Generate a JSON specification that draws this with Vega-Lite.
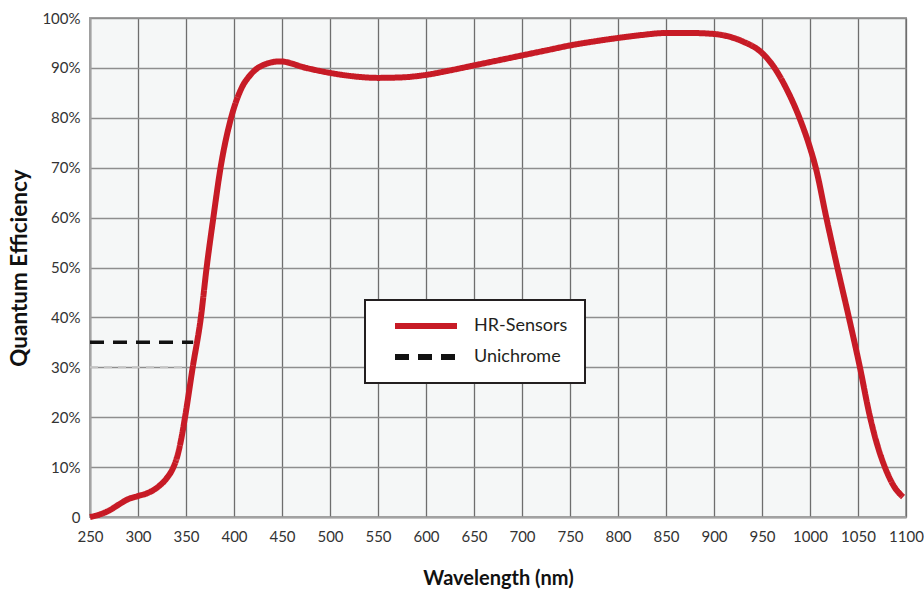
{
  "$schema": "https://vega.github.io/schema/vega-lite/v6.json",
  "autosize": {"type": "none"},
  "width": 816,
  "height": 499,
  "padding": {"left": 90, "top": 18, "right": 18, "bottom": 73},
  "background": "white",
  "config": {
    "font": "Lato",
    "view": {"fill": "#f5f7f7", "stroke": "#a3a3a3", "strokeWidth": 2},
    "legend": {"strokeWidth": 2}
  },
  "data": {
    "values": [
      {"series": "HR-Sensors", "nm": 250, "qe": 0},
      {"series": "HR-Sensors", "nm": 260, "qe": 0.5},
      {"series": "HR-Sensors", "nm": 270, "qe": 1.3},
      {"series": "HR-Sensors", "nm": 280, "qe": 2.5},
      {"series": "HR-Sensors", "nm": 290, "qe": 3.6},
      {"series": "HR-Sensors", "nm": 300, "qe": 4.2},
      {"series": "HR-Sensors", "nm": 310, "qe": 4.8},
      {"series": "HR-Sensors", "nm": 320, "qe": 5.9},
      {"series": "HR-Sensors", "nm": 330, "qe": 7.8},
      {"series": "HR-Sensors", "nm": 336, "qe": 9.6},
      {"series": "HR-Sensors", "nm": 341, "qe": 12.2},
      {"series": "HR-Sensors", "nm": 345, "qe": 15.6},
      {"series": "HR-Sensors", "nm": 349, "qe": 20},
      {"series": "HR-Sensors", "nm": 357, "qe": 30},
      {"series": "HR-Sensors", "nm": 365.5, "qe": 40},
      {"series": "HR-Sensors", "nm": 371.5, "qe": 50},
      {"series": "HR-Sensors", "nm": 378.5, "qe": 60},
      {"series": "HR-Sensors", "nm": 386, "qe": 70},
      {"series": "HR-Sensors", "nm": 397, "qe": 80},
      {"series": "HR-Sensors", "nm": 407, "qe": 85.6},
      {"series": "HR-Sensors", "nm": 418, "qe": 88.8},
      {"series": "HR-Sensors", "nm": 432, "qe": 90.7},
      {"series": "HR-Sensors", "nm": 448, "qe": 91.3},
      {"series": "HR-Sensors", "nm": 475, "qe": 90},
      {"series": "HR-Sensors", "nm": 500, "qe": 89},
      {"series": "HR-Sensors", "nm": 525, "qe": 88.3},
      {"series": "HR-Sensors", "nm": 550, "qe": 88},
      {"series": "HR-Sensors", "nm": 575, "qe": 88.1},
      {"series": "HR-Sensors", "nm": 600, "qe": 88.6},
      {"series": "HR-Sensors", "nm": 625, "qe": 89.5},
      {"series": "HR-Sensors", "nm": 650, "qe": 90.5},
      {"series": "HR-Sensors", "nm": 675, "qe": 91.5},
      {"series": "HR-Sensors", "nm": 700, "qe": 92.5},
      {"series": "HR-Sensors", "nm": 725, "qe": 93.5},
      {"series": "HR-Sensors", "nm": 750, "qe": 94.5},
      {"series": "HR-Sensors", "nm": 775, "qe": 95.3},
      {"series": "HR-Sensors", "nm": 800, "qe": 96},
      {"series": "HR-Sensors", "nm": 825, "qe": 96.6},
      {"series": "HR-Sensors", "nm": 850, "qe": 97},
      {"series": "HR-Sensors", "nm": 875, "qe": 97},
      {"series": "HR-Sensors", "nm": 900, "qe": 96.8},
      {"series": "HR-Sensors", "nm": 915, "qe": 96.3},
      {"series": "HR-Sensors", "nm": 930, "qe": 95.3},
      {"series": "HR-Sensors", "nm": 950, "qe": 93},
      {"series": "HR-Sensors", "nm": 962, "qe": 90.3},
      {"series": "HR-Sensors", "nm": 975, "qe": 86},
      {"series": "HR-Sensors", "nm": 989, "qe": 80},
      {"series": "HR-Sensors", "nm": 1000, "qe": 74},
      {"series": "HR-Sensors", "nm": 1006, "qe": 70},
      {"series": "HR-Sensors", "nm": 1017, "qe": 60},
      {"series": "HR-Sensors", "nm": 1028.5, "qe": 50},
      {"series": "HR-Sensors", "nm": 1040.5, "qe": 40},
      {"series": "HR-Sensors", "nm": 1052, "qe": 30},
      {"series": "HR-Sensors", "nm": 1062, "qe": 20.5},
      {"series": "HR-Sensors", "nm": 1070, "qe": 14.5},
      {"series": "HR-Sensors", "nm": 1078, "qe": 10},
      {"series": "HR-Sensors", "nm": 1087, "qe": 6.3},
      {"series": "HR-Sensors", "nm": 1097, "qe": 4},
      {"series": "Unichrome", "nm": 250, "qe": 35},
      {"series": "Unichrome", "nm": 357.5, "qe": 35},
      {"series": "ref", "nm": 250, "qe": 30},
      {"series": "ref", "nm": 347, "qe": 30}
    ]
  },
  "encoding": {
    "x": {
      "field": "nm", "type": "quantitative",
      "scale": {"domain": [250, 1100], "nice": false, "zero": false},
      "axis": {
        "title": "Wavelength (nm)", "format": "d",
        "values": [250, 300, 350, 400, 450, 500, 550, 600, 650, 700, 750, 800, 850, 900, 950, 1000, 1050, 1100],
        "grid": true, "gridColor": "#6e6e6e", "gridWidth": 1.3,
        "domain": true, "domainColor": "#a3a3a3", "domainWidth": 2,
        "ticks": false, "labelPadding": 12,
        "labelFontSize": 15, "labelColor": "#333333", "labelFlush": false,
        "titleFontSize": 20, "titleFontWeight": "bold", "titleColor": "#111111",
        "titlePadding": 24
      }
    },
    "y": {
      "field": "qe", "type": "quantitative",
      "scale": {"domain": [0, 100], "nice": false},
      "axis": {
        "title": "Quantum Efficiency",
        "values": [0, 10, 20, 30, 40, 50, 60, 70, 80, 90, 100],
        "labelExpr": "datum.value == 0 ? '0' : datum.value + '%'",
        "grid": true, "gridColor": "#8e8e8e", "gridWidth": 1.5,
        "domain": true, "domainColor": "#a3a3a3", "domainWidth": 2,
        "ticks": false, "labelPadding": 10,
        "labelFontSize": 15, "labelColor": "#333333", "labelFlush": false,
        "titleFontSize": 22.5, "titleFontWeight": "bold", "titleColor": "#111111",
        "titlePadding": 10
      }
    },
    "color": {
      "field": "series", "type": "nominal",
      "scale": {"domain": ["HR-Sensors", "Unichrome"], "range": ["#c71b26", "#111111"]},
      "legend": {
        "title": null, "orient": "none", "legendX": 275, "legendY": 282,
        "symbolType": "stroke", "symbolSize": 3844, "symbolStrokeWidth": 6, "symbolOffset": 10,
        "clipHeight": 18, "rowPadding": 13,
        "labelFontSize": 18, "labelColor": "#231f20", "labelOffset": 14,
        "padding": 17, "fillColor": "white", "strokeColor": "#231f20"
      }
    },
    "strokeDash": {
      "field": "series", "type": "nominal",
      "scale": {"domain": ["HR-Sensors", "Unichrome"], "range": [[1, 0], [14, 9]]},
      "legend": {
        "title": null, "orient": "none", "legendX": 275, "legendY": 282,
        "symbolType": "stroke", "symbolSize": 3844, "symbolStrokeWidth": 6, "symbolOffset": 10,
        "clipHeight": 18, "rowPadding": 13,
        "labelFontSize": 18, "labelColor": "#231f20", "labelOffset": 14,
        "padding": 17, "fillColor": "white", "strokeColor": "#231f20"
      }
    }
  },
  "layer": [
    {
      "transform": [{"filter": "datum.series == 'ref'"}],
      "mark": {"type": "line", "strokeWidth": 2},
      "encoding": {
        "color": {"value": "#c4c4c4"},
        "strokeDash": {"value": [8, 6]}
      }
    },
    {
      "transform": [{"filter": "datum.series == 'Unichrome'"}],
      "mark": {"type": "line", "strokeWidth": 3.5, "strokeDash": [8, 5]},
      "encoding": {}
    },
    {
      "transform": [{"filter": "datum.series == 'HR-Sensors'"}],
      "mark": {"type": "line", "strokeWidth": 6, "interpolate": "monotone"},
      "encoding": {}
    }
  ]
}
